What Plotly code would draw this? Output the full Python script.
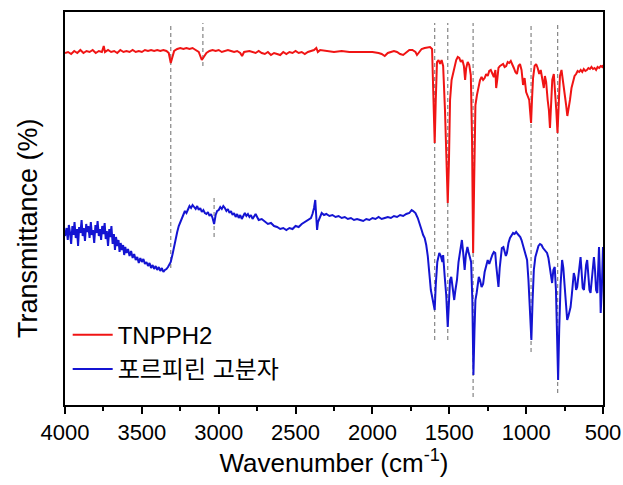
import plotly.graph_objects as go

# ---------------- data ----------------
red_wn = [4000,3980,3960,3940,3920,3900,3880,3860,3840,3820,3800,3780,3760,3748,3740,3720,3700,3680,3660,3640,
          3620,3600,3580,3560,3540,3520,3500,3480,3460,3440,3420,3400,3380,3360,3340,3325,3312,3300,3290,3270,
          3250,3230,3210,3190,3170,3150,3130,3110,3095,3080,3060,3040,3020,3000,2980,2960,2940,2920,2900,2880,
          2860,2848,2835,2800,2780,2760,2740,2720,2700,2680,2660,2640,2620,2600,2580,2560,2540,2520,2500,2480,
          2460,2440,2420,2400,2380,2365,2355,2340,2300,2250,2200,2150,2100,2050,2000,1960,1940,1920,1900,1880,
          1860,1840,1820,1800,1780,1760,1740,1720,1710,1700,1680,1660,1640,1625,1612,1603,1595,1588,1580,1570,
          1560,1550,1540,1528,1518,1510,1502,1495,1485,1475,1465,1455,1445,1435,1425,1415,1405,1397,1390,1380,
          1370,1360,1352,1345,1338,1330,1320,1310,1300,1290,1280,1270,1260,1250,1240,1230,1220,1210,1200,1195,
          1188,1180,1170,1160,1150,1140,1130,1120,1110,1100,1090,1080,1070,1060,1050,1040,1030,1020,1010,1000,
          990,980,975,968,962,955,945,935,925,915,905,895,885,878,870,860,852,845,838,830,
          820,812,804,796,788,780,770,760,750,740,732,725,715,705,695,685,675,665,655,645,
          635,625,615,605,595,585,575,565,555,545,535,525,515,505,500]
red_T = [352,353,351,354,352,355,352,354,353,355,352,354,353,359,353,355,353,354,352,355,
         353,354,353,355,353,354,353,355,354,355,354,355,354,355,354,352,342,349,354,356,
         357,356,357,356,357,355,353,345,349,352,354,355,354,355,353,354,355,354,353,354,
         352,349,353,354,353,352,354,352,351,353,350,352,351,350,353,351,353,352,354,352,
         353,351,353,354,355,357,353,355,354,353,354,353,353,353,353,352,351,349,352,353,
         354,353,351,350,353,355,355,353,350,352,356,357,358,358,356,315,262,305,343,345,
         341,345,339,295,235,202,245,305,325,333,339,345,348,347,343,345,339,325,337,343,
         340,330,265,152,225,300,310,319,325,328,325,327,331,329,334,335,331,328,335,317,
         325,337,339,340,341,338,339,343,342,344,341,337,333,331,339,341,335,320,327,313,
         309,305,295,282,305,327,339,341,337,331,335,327,317,329,323,305,295,277,305,325,
         331,315,295,272,305,329,335,325,310,300,289,295,305,317,325,329,331,334,333,335,
         333,336,334,335,337,336,338,336,337,335,338,337,339,338,340]

blue_wn = [4000,3990,3982,3975,3968,3960,3952,3945,3938,3930,3922,3915,3908,3900,3892,3885,3878,3870,3862,3855,
           3848,3840,3832,3825,3818,3810,3802,3795,3788,3780,3772,3765,3758,3750,3742,3735,3728,3720,3712,3705,
           3698,3690,3682,3675,3668,3660,3652,3645,3638,3630,3622,3615,3608,3600,3590,3580,3570,3560,3550,3540,
           3530,3520,3510,3500,3490,3480,3470,3460,3450,3440,3430,3420,3410,3400,3390,3380,3370,3360,3350,3340,
           3330,3320,3312,3300,3290,3280,3270,3260,3250,3240,3230,3220,3210,3200,3190,3180,3170,3160,3150,3140,
           3130,3120,3110,3100,3090,3080,3070,3060,3050,3040,3030,3020,3010,3000,2990,2980,2970,2960,2950,2940,
           2930,2920,2910,2900,2890,2880,2870,2860,2850,2840,2830,2820,2810,2800,2790,2780,2770,2760,2750,2740,
           2720,2700,2680,2660,2640,2620,2600,2580,2560,2540,2520,2500,2480,2460,2440,2420,2400,2390,2380,2372,
           2366,2360,2354,2345,2330,2315,2300,2280,2260,2240,2220,2200,2180,2160,2140,2120,2100,2080,2060,2040,
           2020,2000,1980,1960,1940,1920,1900,1880,1860,1840,1820,1800,1780,1760,1745,1735,1720,1705,1690,1680,
           1670,1660,1650,1640,1630,1620,1610,1600,1595,1588,1578,1565,1555,1545,1540,1530,1520,1510,1502,1495,
           1487,1478,1468,1460,1450,1440,1430,1418,1410,1400,1392,1382,1375,1365,1358,1350,1343,1336,1330,1322,
           1315,1308,1300,1290,1280,1270,1260,1250,1240,1230,1220,1210,1201,1195,1188,1180,1172,1165,1158,1148,
           1140,1132,1125,1115,1105,1095,1085,1075,1065,1055,1045,1038,1030,1020,1010,1000,994,985,975,966,
           958,950,940,930,920,910,900,890,880,870,864,855,845,838,831,823,814,806,798,792,
           785,776,766,758,750,742,733,725,718,711,703,695,690,682,675,668,660,653,646,640,
           632,624,618,610,603,596,588,581,574,566,559,552,545,537,531,526,520,515,508,504,500]
blue_T = [169,177,165,180,173,161,179,170,183,167,176,159,178,172,185,169,177,164,181,173,
          179,167,183,170,175,162,180,172,184,169,176,165,179,171,182,166,174,159,176,168,
          179,161,171,155,168,159,165,153,162,155,160,150,158,152,156,149,154,147,151,145,
          148,142,147,143,146,141,143,139,142,137,140,136,139,135,138,134,137,133,135,136,
          138,141,143,151,159,167,173,179,183,187,191,194,192,196,199,197,200,198,196,199,
          195,197,193,195,192,191,193,189,191,187,181,190,194,195,198,196,199,197,194,196,
          192,194,190,192,188,191,187,190,186,189,192,189,191,188,190,186,189,191,188,185,
          186,183,181,182,179,178,176,177,175,177,176,179,178,181,183,185,187,191,197,205,
          191,175,183,187,192,190,191,189,190,188,189,187,188,186,187,185,186,185,184,186,
          185,187,186,188,186,187,188,187,189,188,190,189,191,192,195,194,192,187,181,175,
          170,167,160,149,132,115,107,99,95,120,143,152,149,143,150,129,110,78,105,125,
          128,115,105,115,125,143,155,165,153,135,150,158,153,148,143,105,30,75,105,112,
          123,128,125,118,121,133,139,145,141,147,150,153,152,140,127,118,137,150,157,158,
          153,149,152,162,167,170,172,171,173,171,169,168,165,159,153,147,145,125,95,65,
          105,135,148,155,159,161,160,157,155,153,152,147,135,125,122,135,138,115,65,25,
          75,120,145,137,120,105,85,89,95,98,110,125,132,127,115,118,130,143,148,135,
          117,115,129,140,145,133,115,112,125,143,148,135,115,112,135,158,130,92,115,143,158]

# marker lines (wavenumber, lower and upper transmittance of the dashed guide)
guide_wn = [3312, 3103, 3030, 1595, 1510, 1345, 968, 795]
guide_lo = [137, 339, 168, 65, 65, 8, 53, 12]
guide_hi = [382, 382, 209, 382, 382, 382, 382, 382]

series_names = ["TNPPH2", "포르피린 고분자"]
x_ticks = [4000, 3500, 3000, 2500, 2000, 1500, 1000, 500]
y_title = "Transmittance (%)"

FONT = "Liberation Sans, Arial, Noto Sans CJK KR, sans-serif"

fig = go.Figure()

for w, lo, hi in zip(guide_wn, guide_lo, guide_hi):
    fig.add_shape(type="line", xref="x", yref="y", x0=w, x1=w, y0=lo, y1=hi,
                  line=dict(color="#858585", width=1.2, dash="4px,3px"), layer="below")

fig.add_trace(go.Scatter(x=red_wn, y=red_T, mode="lines", name=series_names[0],
                         line=dict(color="#f01414", width=2)))
fig.add_trace(go.Scatter(x=blue_wn, y=blue_T, mode="lines", name=series_names[1],
                         line=dict(color="#1414d2", width=2)))

fig.add_annotation(text=y_title, textangle=-90, xref="paper", yref="paper",
                   x=-0.069, y=0.45, xanchor="center", yanchor="middle", showarrow=False,
                   font=dict(size=27, family=FONT, color="black"))

fig.update_layout(
    width=623, height=485,
    margin=dict(l=65, r=20, t=12, b=80),
    paper_bgcolor="white", plot_bgcolor="white",
    font=dict(family=FONT, color="black"),
    showlegend=True,
    legend=dict(x=0.005, y=0.235, xanchor="left", yanchor="top",
                bgcolor="rgba(0,0,0,0)", font=dict(size=24, family=FONT),
                itemwidth=40, tracegroupgap=0),
    xaxis=dict(range=[4000, 500], tickvals=x_ticks, ticktext=[str(v) for v in x_ticks],
               ticks="outside", ticklen=7, tickwidth=1.5, tickcolor="black",
               showline=True, linecolor="black", linewidth=2, mirror=True,
               showgrid=False, zeroline=False, automargin=False,
               tickfont=dict(size=22, family=FONT),
               minor=dict(dtick=250, tick0=500, ticks="outside", ticklen=4, tickwidth=1.5, tickcolor="black", showgrid=False),
               title=dict(text="Wavenumber (cm<sup>-1</sup>)", font=dict(size=26, family=FONT), standoff=6)),
    yaxis=dict(range=[0, 393], showticklabels=False, ticks="",
               showline=True, linecolor="black", linewidth=2, mirror=True,
               showgrid=False, zeroline=False, automargin=False),
)

fig.write_html("out.html")
